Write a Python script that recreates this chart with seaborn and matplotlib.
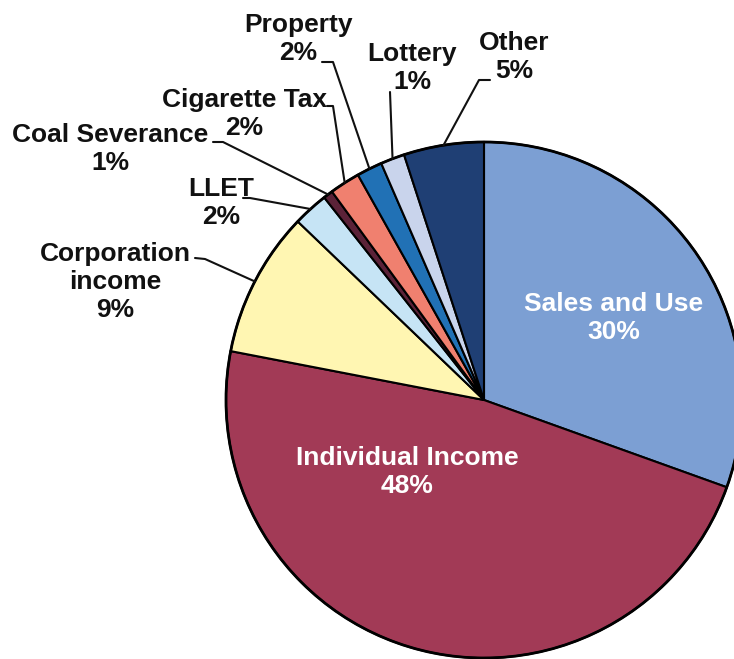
import matplotlib
matplotlib.use("Agg")
import matplotlib.pyplot as plt
import seaborn as sns
import numpy as np

# revenue shares, clockwise from 12 o'clock
categories = ["Sales and Use", "Individual Income", "Corporation\nincome", "LLET",
              "Coal Severance", "Cigarette Tax", "Property", "Lottery", "Other"]
shares = [30.4, 47.4, 9.1, 2.2, 0.6, 1.9, 1.6, 1.5, 5.0]
pct_labels = [30, 48, 9, 2, 1, 2, 2, 1, 5]
colors = ["#7C9FD3", "#A23A56", "#FFF6B2", "#C6E4F5", "#5B2238",
          "#F0806F", "#2171B5", "#C9D4EC", "#1F3F74"]

sns.set_theme(style="white")
plt.rcParams["font.family"] = ["Liberation Sans", "DejaVu Sans"]

W, H = 734, 659
fig = plt.figure(figsize=(W / 100, H / 100), dpi=100)
ax = fig.add_axes([0, 0, 1, 1])

cx, cy, r = 484, H - 400, 258
wedges, _ = ax.pie(shares, colors=sns.color_palette(colors), startangle=90,
                   counterclock=False, center=(cx, cy), radius=r, frame=True,
                   wedgeprops=dict(edgecolor="black", linewidth=1.5))
ax.add_patch(plt.Circle((cx, cy), r, fill=False, edgecolor="black", linewidth=2))
ax.set_xlim(0, W)
ax.set_ylim(0, H)
ax.axis("off")

# label layout in image pixels (y from top): text centre, leader start, leader knee
inside = {"Sales and Use": (614, 318), "Individual Income": (407, 472)}
outside = {
    "Corporation\nincome": ((115, 282), (195, 258), (205, 259)),
    "LLET": ((221, 203), (243, 198), (250, 198)),
    "Coal Severance": ((110, 149), (213, 142), (223, 142)),
    "Cigarette Tax": ((244, 114), (327, 106), (333, 106)),
    "Property": ((298, 39), (322, 62), (333, 62)),
    "Lottery": ((412, 68), (390, 92), (390, 92)),
    "Other": ((514, 57), (490, 80), (479, 80)),
}

for w, name, pct in zip(wedges, categories, pct_labels):
    text = f"{name}\n{pct}%"
    if name in inside:
        x, y = inside[name]
        ax.text(x, H - y, text, ha="center", va="center", color="white",
                fontsize=19, fontweight="bold", linespacing=1.2)
        continue
    (tx, ty), (sx, sy), (kx, ky) = outside[name]
    ax.text(tx, H - ty, text, ha="center", va="center", color="#111111",
            fontsize=19, fontweight="bold", linespacing=1.2)
    mid = np.deg2rad((w.theta1 + w.theta2) / 2)
    ex, ey = cx + r * np.cos(mid), cy + r * np.sin(mid)
    ax.plot([sx, kx, ex], [H - sy, H - ky, ey], color="#111111", linewidth=1.5)

fig.savefig("out.png", dpi=100, facecolor="white")
